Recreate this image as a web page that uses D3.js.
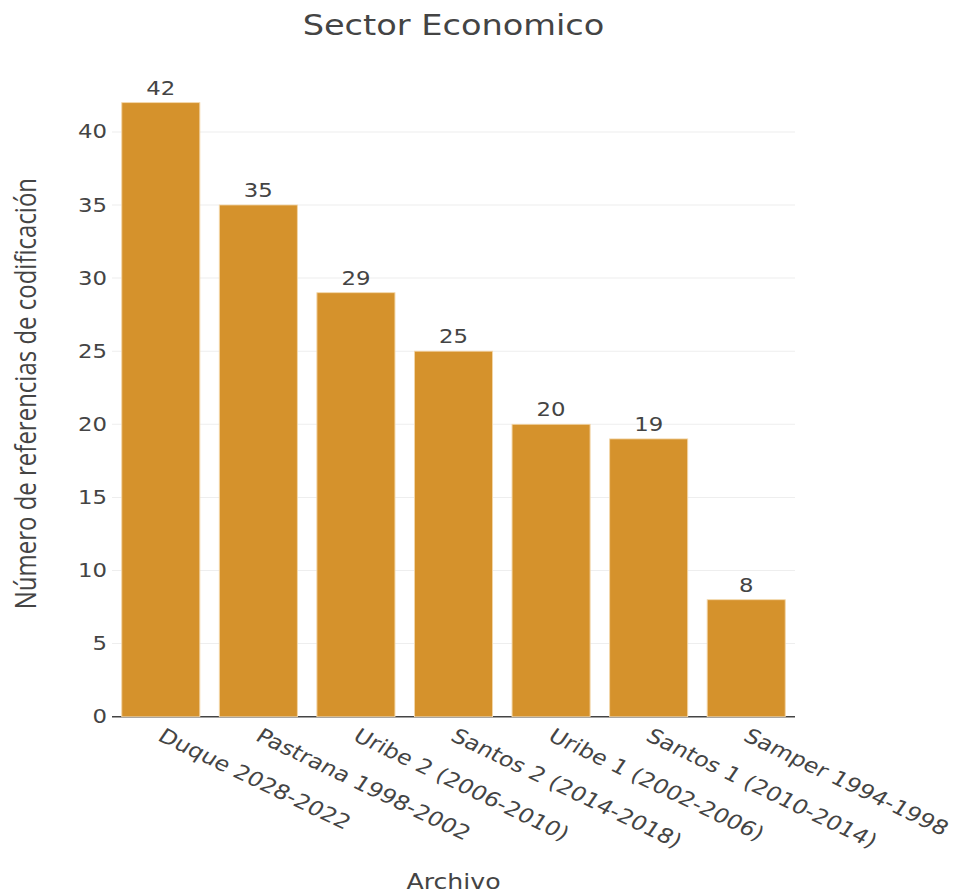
<!DOCTYPE html>
<html>
<head>
<meta charset="utf-8">
<script src="https://cdn.jsdelivr.net/npm/d3@7"></script>
<style>
  html, body { margin: 0; padding: 0; background: #fff; }
  svg { display: block; }
</style>
</head>
<body>
<div id="chart"></div>
<script>
// Coding references per presidential archive, economic sector
const categories = [
  "Duque 2028-2022",
  "Pastrana 1998-2002",
  "Uribe 2 (2006-2010)",
  "Santos 2 (2014-2018)",
  "Uribe 1 (2002-2006)",
  "Santos 1 (2010-2014)",
  "Samper 1994-1998"
];
const values = [42, 35, 29, 25, 20, 19, 8];
const yTicks = [0, 5, 10, 15, 20, 25, 30, 35, 40];

const titleText = "Sector Economico";
const xTitle = "Archivo";
const yTitle = "Número de referencias de codificación";

// The figure is laid out in a narrower frame and widened horizontally.
const W = 956, H = 894, SX = 1.2;
const plot = { left: 112 / SX, right: 795 / SX, top: 70.5, bottom: 716.7 };

const svg = d3.select("#chart").append("svg")
  .attr("width", W).attr("height", H);
const root = svg.append("g").attr("transform", `scale(${SX},1)`);

const x = d3.scaleBand().domain(categories)
  .range([plot.left, plot.right]).paddingInner(0.2).paddingOuter(0.1);
const y = d3.scaleLinear().domain([0, 44.2]).range([plot.bottom, plot.top]);

const textColor = "#444";
const font = "'DejaVu Sans', Verdana, sans-serif";

// gridlines
root.append("g").selectAll("line").data(yTicks.filter(d => d !== 0)).join("line")
  .attr("x1", plot.left).attr("x2", plot.right)
  .attr("y1", d => y(d)).attr("y2", d => y(d))
  .attr("stroke", "#eeeeee").attr("stroke-width", 1);

// y tick labels
const yAxis = d3.axisLeft(y).tickValues(yTicks).tickSize(0).tickPadding(5 / SX);
const yG = root.append("g").attr("transform", `translate(${plot.left},0)`).call(yAxis);
yG.select(".domain").remove();
yG.selectAll("text")
  .attr("font-family", font).attr("font-size", 19).attr("fill", textColor);

// zero line
root.append("line")
  .attr("x1", plot.left).attr("x2", plot.right)
  .attr("y1", y(0)).attr("y2", y(0))
  .attr("stroke", textColor).attr("stroke-width", 1.5);

// bars
root.append("g").selectAll("rect").data(values).join("rect")
  .attr("x", (d, i) => x(categories[i]))
  .attr("width", x.bandwidth())
  .attr("y", d => y(d))
  .attr("height", d => y(0) - y(d))
  .attr("fill", "#d5922c")
  .attr("stroke", "#f3d6a8").attr("stroke-width", 0.8);

// value labels
root.append("g").selectAll("text").data(values).join("text")
  .attr("x", (d, i) => x(categories[i]) + x.bandwidth() / 2)
  .attr("y", d => y(d) - 8)
  .attr("text-anchor", "middle")
  .attr("font-family", font).attr("font-size", 19).attr("fill", textColor)
  .text(d => d);

// x tick labels, angled
const xAxis = d3.axisBottom(x).tickSize(0).tickPadding(0);
const xG = root.append("g").attr("transform", `translate(0,${plot.bottom})`).call(xAxis);
xG.select(".domain").remove();
xG.selectAll(".tick text")
  .attr("font-family", font).attr("font-size", 20).attr("fill", textColor)
  .attr("text-anchor", "start")
  .attr("y", 0).attr("dy", "0.75em")
  .attr("transform", "translate(4,10) rotate(30)");

// chart title
root.append("text")
  .attr("x", (plot.left + plot.right) / 2).attr("y", 35)
  .attr("text-anchor", "middle")
  .attr("font-family", font).attr("font-size", 28).attr("fill", textColor)
  .text(titleText);

// x axis title
root.append("text")
  .attr("x", (plot.left + plot.right) / 2).attr("y", 889)
  .attr("text-anchor", "middle")
  .attr("font-family", font).attr("font-size", 21).attr("fill", textColor)
  .text(xTitle);

// y axis title
root.append("text")
  .attr("transform", `translate(${36 / SX},${(plot.top + plot.bottom) / 2}) rotate(-90)`)
  .attr("text-anchor", "middle")
  .attr("font-family", "'Open Sans', sans-serif").attr("font-size", 24).attr("fill", textColor)
  .text(yTitle);
</script>
</body>
</html>
